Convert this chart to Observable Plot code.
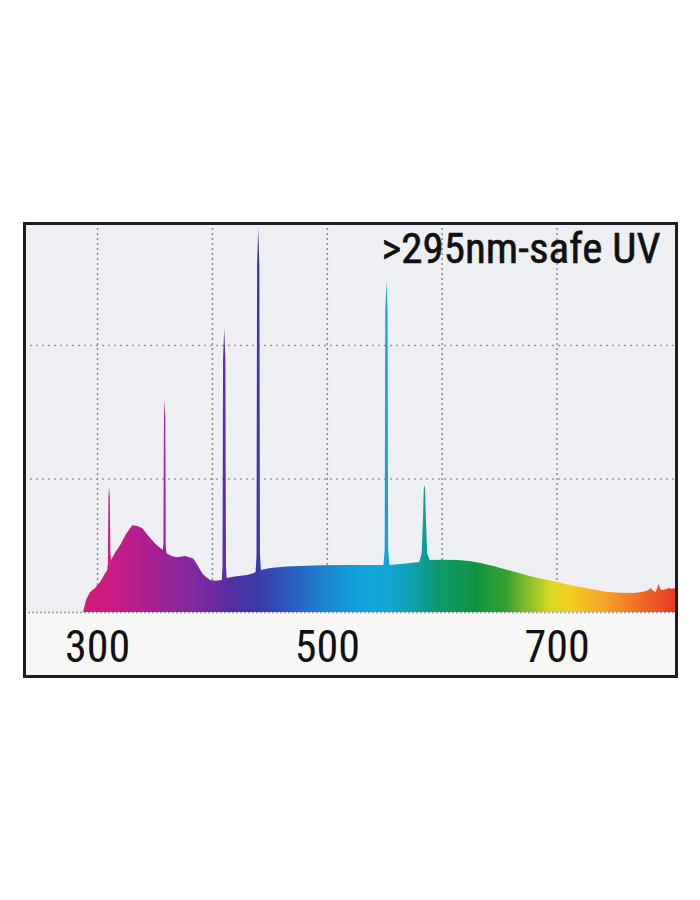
<!DOCTYPE html>
<html><head><meta charset="utf-8">
<script src="https://cdn.jsdelivr.net/npm/d3@7"></script>
<script src="https://cdn.jsdelivr.net/npm/@observablehq/plot@0.6"></script>
<style>
html,body{margin:0;padding:0;background:#fff;}
#chart svg{display:block;}
</style></head><body><div id="chart"></div>
<script>
// Spectrum (wavelength in nm, relative intensity; gridlines at 1 and 2)
const wavelength = [
  287.8, 290.4, 293.9, 298.3, 302.6, 307.0, 308.7,
  309.4, 309.9, 310.5, 311.1, 311.6,
  312.2, 316, 320.0, 325, 330.5, 335, 339.2, 346.2, 351, 355, 357.3,
  357.8, 358.2, 358.8, 359.4, 359.8,
  360.4, 365, 369.7, 376.7, 383.7, 387.5, 391.5, 395, 398.5, 403, 408.6,
  409.2, 409.7, 410.7, 411.7, 412.2,
  412.8, 420, 430.7, 436, 438.0,
  438.8, 439.3, 440.3, 441.3, 441.8,
  442.6, 450.8, 465, 476.9, 495, 511.8, 530, 549.3,
  550.4, 550.9, 551.9, 552.9, 553.4,
  554.5, 567, 580.5,
  582.6, 583.8, 584.4, 585.0, 585.6, 586.2, 587.4,
  589.5, 600, 613.7, 624, 633.8, 645, 657.3, 668, 679.9, 690, 700.9, 710,
  720.9, 732, 744.4, 755, 767.1, 773, 777.6, 780, 781.9, 784, 786.3, 788.9,
  790.5, 792.4, 795, 797.6, 800, 804
];
const intensity = [
  0, 0.09, 0.15, 0.18, 0.225, 0.29, 0.31,
  0.36, 0.86, 0.936, 0.86, 0.43,
  0.39, 0.45, 0.50, 0.58, 0.65, 0.645, 0.63, 0.554, 0.51, 0.48, 0.464,
  0.52, 1.45, 1.588, 1.45, 0.50,
  0.44, 0.42, 0.41, 0.42, 0.40, 0.35, 0.29, 0.26, 0.24, 0.235, 0.24,
  0.34, 1.90, 2.127, 1.90, 0.35,
  0.255, 0.265, 0.277, 0.29, 0.30,
  0.42, 2.60, 2.876, 2.60, 0.44,
  0.315, 0.33, 0.34, 0.345, 0.35, 0.352, 0.352, 0.352,
  0.47, 2.25, 2.487, 2.25, 0.47,
  0.352, 0.362, 0.375,
  0.44, 0.72, 0.92, 0.951, 0.92, 0.72, 0.44,
  0.39, 0.392, 0.39, 0.382, 0.367, 0.345, 0.315, 0.29, 0.262, 0.243, 0.225, 0.205,
  0.187, 0.168, 0.15, 0.145, 0.142, 0.148, 0.157, 0.165, 0.18, 0.16, 0.15, 0.21,
  0.17, 0.165, 0.17, 0.18, 0.175, 0.18
];
const xTicks = [300, 500, 700];
const xGrid = [300, 400, 500, 600, 700];
const yGrid = [1, 2];
const title = ">295nm-safe UV";
const gradientWl = [288, 310, 340, 370, 400, 420, 440, 470, 500, 530, 555, 580, 600, 630, 655, 675, 695, 710, 740, 770, 805];
const gradientColor = ["#d41a78", "#cc1c82", "#b01e90", "#8e279c", "#6f2b9f", "#4f30a2", "#3a3aa8", "#2a5ec0", "#1a86d0", "#10a4dc", "#12a6d4", "#0e9ea0", "#10976a", "#129440", "#30a030", "#88bc2a", "#dcd820", "#f0d020", "#f4a82a", "#f07028", "#e23a22"];

const data = wavelength.map((w, i) => ({w, v: intensity[i]}));
const font = "'Liberation Sans Narrow','Arial Narrow','Roboto Condensed',sans-serif";

const chart = Plot.plot({
  width: 700, height: 900,
  marginTop: 223, marginBottom: 288, marginLeft: 24, marginRight: 24,
  x: {domain: [236.4, 804], axis: null, label: null},
  y: {domain: [0, 2.914], axis: null, label: null},
  style: {background: "transparent", fontFamily: font},
  marks: [
    Plot.frame({fill: "#f7f7f6", stroke: "none", insetBottom: -64}),
    Plot.frame({fill: "#edeff2", stroke: "none"}),
    Plot.ruleX(xGrid, {stroke: "#8c8c90", strokeWidth: 1.5, strokeDasharray: "2,3"}),
    Plot.ruleY(yGrid, {stroke: "#9a9aa0", strokeWidth: 1.5, strokeDasharray: "2,4"}),
    Plot.ruleY([0], {stroke: "#a0a0a0", strokeWidth: 1.5, strokeDasharray: "2,2"}),
    Plot.areaY(data, {x: "w", y: "v", fill: "url(#spectrum)"}),
    Plot.axisX(xTicks, {label: null, tickSize: 0, tickPadding: 18, fontSize: 44, fill: "#111", stroke: "#111", strokeWidth: 0.6, fontFamily: font}),
    Plot.text([title], {frameAnchor: "top-right", dx: -16, dy: 9, lineAnchor: "top", fontSize: 43, fill: "#111", stroke: "#111", strokeWidth: 0.6, fontFamily: font}),
    Plot.frame({stroke: "#1c1c24", strokeWidth: 3, insetBottom: -64})
  ]
});

const xs = chart.scale("x");
const svg = d3.select(chart);
const defs = svg.insert("defs", ":first-child");
const g0 = gradientWl[0], g1 = gradientWl[gradientWl.length - 1];
const grad = defs.append("linearGradient")
  .attr("id", "spectrum")
  .attr("gradientUnits", "userSpaceOnUse")
  .attr("x1", xs.apply(g0)).attr("x2", xs.apply(g1))
  .attr("y1", 0).attr("y2", 0);
gradientWl.forEach((w, i) => {
  grad.append("stop").attr("offset", (w - g0) / (g1 - g0)).attr("stop-color", gradientColor[i]);
});
document.getElementById("chart").appendChild(chart);
</script>
</body></html>
